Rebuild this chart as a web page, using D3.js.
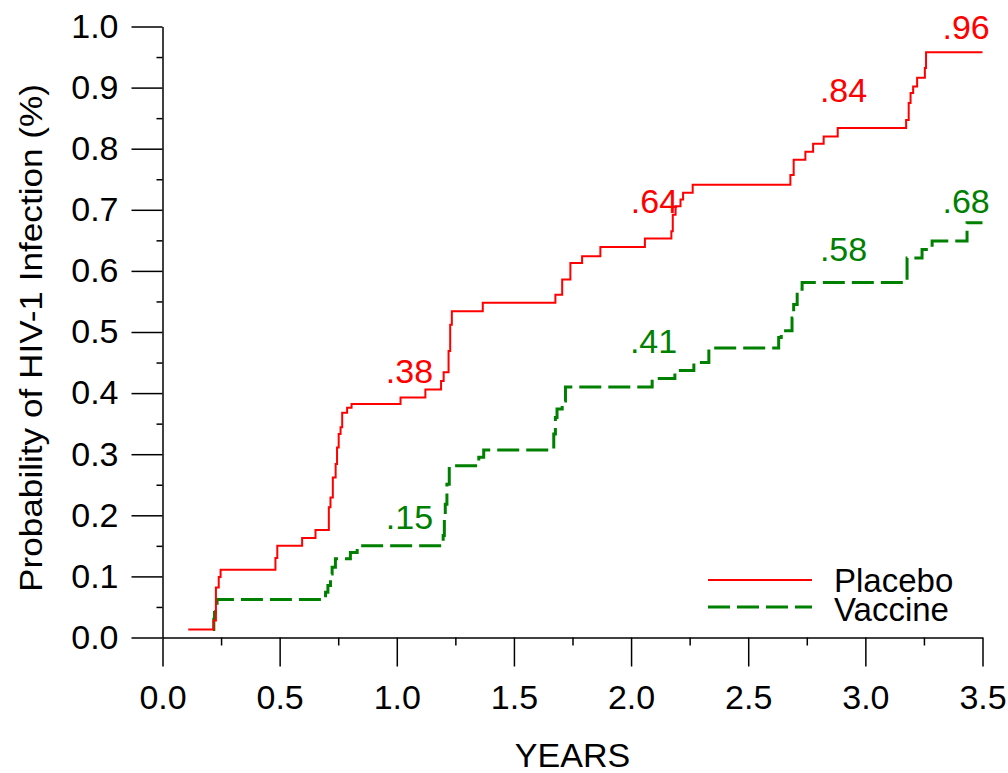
<!DOCTYPE html>
<html>
<head>
<meta charset="utf-8">
<title>Probability of HIV-1 Infection</title>
<script src="https://d3js.org/d3.v7.min.js"></script>
<style>
    body { margin: 0; background: #fff; }
    svg { display: block; font-family: "Liberation Sans", Arial, sans-serif; }
</style>
</head>
<body>
<svg id="chart" width="1008" height="773"></svg>
<script>
    // Kaplan-Meier style steps: [years, cumulative probability after the step]
    var placeboSteps = [
        [0.11, 0.013], [0.218, 0.028], [0.228, 0.082], [0.24, 0.099], [0.248, 0.111],
        [0.482, 0.130], [0.49, 0.150], [0.596, 0.163], [0.653, 0.176],
        [0.710, 0.213], [0.717, 0.229], [0.727, 0.262], [0.739, 0.284], [0.745, 0.311],
        [0.752, 0.333], [0.760, 0.344], [0.767, 0.368], [0.788, 0.376], [0.807, 0.382],
        [1.016, 0.393], [1.122, 0.406], [1.189, 0.420], [1.200, 0.434], [1.221, 0.469],
        [1.228, 0.512], [1.235, 0.534], [1.367, 0.548], [1.677, 0.561], [1.706, 0.586],
        [1.741, 0.613], [1.791, 0.624], [1.869, 0.639], [2.059, 0.653], [2.172, 0.665],
        [2.178, 0.692], [2.190, 0.706], [2.211, 0.717], [2.222, 0.728], [2.263, 0.741],
        [2.680, 0.757], [2.694, 0.782], [2.744, 0.795], [2.777, 0.808], [2.822, 0.820],
        [2.882, 0.834], [3.174, 0.847], [3.185, 0.875], [3.193, 0.891], [3.204, 0.902],
        [3.221, 0.916], [3.254, 0.932], [3.259, 0.958], [3.5, 0.958]
    ];

    var vaccineSteps = [
        [0.215, 0.013], [0.219, 0.030], [0.222, 0.041], [0.226, 0.051], [0.233, 0.062],
        [0.696, 0.074], [0.706, 0.085], [0.717, 0.104], [0.724, 0.115], [0.738, 0.129],
        [0.802, 0.139], [0.831, 0.150], [1.198, 0.167], [1.203, 0.197], [1.207, 0.218],
        [1.214, 0.251], [1.224, 0.281], [1.350, 0.295], [1.371, 0.307], [1.670, 0.333],
        [1.677, 0.360], [1.684, 0.374], [1.706, 0.387], [1.720, 0.410], [2.090, 0.424],
        [2.187, 0.437], [2.268, 0.450], [2.332, 0.474], [2.630, 0.491], [2.641, 0.502],
        [2.687, 0.523], [2.694, 0.545], [2.709, 0.570], [2.730, 0.581], [3.178, 0.621],
        [3.242, 0.635], [3.285, 0.649], [3.434, 0.679], [3.5, 0.679]
    ];

    // value labels written on the chart: [text, years, probability at baseline]
    var placeboLabels = [[".38", 1.054, 0.417], [".64", 2.10, 0.695], [".84", 2.907, 0.877], [".96", 3.43, 0.979]];
    var vaccineLabels = [[".15", 1.054, 0.178], [".41", 2.096, 0.466], [".58", 2.907, 0.616], [".68", 3.43, 0.695]];

    var seriesNames = ["Placebo", "Vaccine"];
    var xTicks = [0, 0.5, 1, 1.5, 2, 2.5, 3, 3.5];
    var xMinorTicks = [0.25, 0.75, 1.25, 1.75, 2.25, 2.75, 3.25];
    var yTicks = [0, 0.1, 0.2, 0.3, 0.4, 0.5, 0.6, 0.7, 0.8, 0.9, 1.0];
    var yMinorTicks = [0.05, 0.15, 0.25, 0.35, 0.45, 0.55, 0.65, 0.75, 0.85, 0.95];

    var red = "#ff0000", green = "#008000";
    var svg = d3.select("#chart");

    var x = d3.scaleLinear().domain([0, 3.5]).range([162.5, 982.5]);
    var y = d3.scaleLinear().domain([0, 1]).range([637.5, 26.5]);

    var fmt = d3.format(".1f");

    // y axis
    var yAxis = svg.append("g").attr("transform", "translate(" + x(0) + ",0)");
    yAxis.call(d3.axisLeft(y).tickValues(yTicks).tickFormat(fmt).tickSize(31).tickSizeOuter(0).tickPadding(13));
    svg.append("g").attr("transform", "translate(" + x(0) + ",0)")
        .call(d3.axisLeft(y).tickValues(yMinorTicks).tickFormat("").tickSize(6).tickSizeOuter(0))
        .select(".domain").remove();

    // x axis
    var xAxis = svg.append("g").attr("transform", "translate(0," + y(0) + ")");
    xAxis.call(d3.axisBottom(x).tickValues(xTicks).tickFormat(fmt).tickSize(29).tickSizeOuter(0).tickPadding(18));
    svg.append("g").attr("transform", "translate(0," + y(0) + ")")
        .call(d3.axisBottom(x).tickValues(xMinorTicks).tickFormat("").tickSize(8).tickSizeOuter(0))
        .select(".domain").remove();

    svg.selectAll(".tick line, .domain").attr("stroke", "#000").attr("stroke-width", 1.5);
    svg.selectAll(".tick text").attr("font-size", 34).attr("fill", "#000")
        .attr("font-family", "'Liberation Sans', Arial, sans-serif");

    // axis titles
    svg.append("text")
        .attr("x", (x(0) + x(3.5)) / 2).attr("y", 767)
        .attr("text-anchor", "middle").attr("font-size", 34)
        .text("YEARS");

    svg.append("text")
        .attr("transform", "translate(42,338) rotate(-90)")
        .attr("text-anchor", "middle").attr("font-size", 32)
        .attr("textLength", 508).attr("lengthAdjust", "spacingAndGlyphs")
        .text("Probability of HIV-1 Infection (%)");

    // step curves
    var line = d3.line()
        .x(function(d) { return x(d[0]); })
        .y(function(d) { return y(d[1]); })
        .curve(d3.curveStepAfter);

    svg.append("path").datum(vaccineSteps)
        .attr("fill", "none").attr("stroke", green).attr("stroke-width", 3)
        .attr("stroke-dasharray", "22,7")
        .attr("d", line);

    svg.append("path").datum(placeboSteps)
        .attr("fill", "none").attr("stroke", red).attr("stroke-width", 2)
        .attr("d", line);

    // value labels
    function addLabels(list, color) {
        svg.append("g").selectAll("text").data(list).join("text")
            .attr("x", function(d) { return x(d[1]); })
            .attr("y", function(d) { return y(d[2]); })
            .attr("text-anchor", "middle").attr("font-size", 34)
            .attr("fill", color)
            .text(function(d) { return d[0]; });
    }
    addLabels(placeboLabels, red);
    addLabels(vaccineLabels, green);

    // legend
    var legend = svg.append("g");
    var legendColors = [red, green];
    seriesNames.forEach(function(name, i) {
        var ly = 580 + i * 27;
        legend.append("line")
            .attr("x1", 708).attr("x2", 812).attr("y1", ly).attr("y2", ly)
            .attr("stroke", legendColors[i]).attr("stroke-width", i === 0 ? 2 : 3)
            .attr("stroke-dasharray", i === 0 ? null : "22,7");
        legend.append("text")
            .attr("x", 834).attr("y", ly + 12 + i * 2)
            .attr("font-size", 33).attr("fill", "#000")
            .text(name);
    });
</script>
</body>
</html>
